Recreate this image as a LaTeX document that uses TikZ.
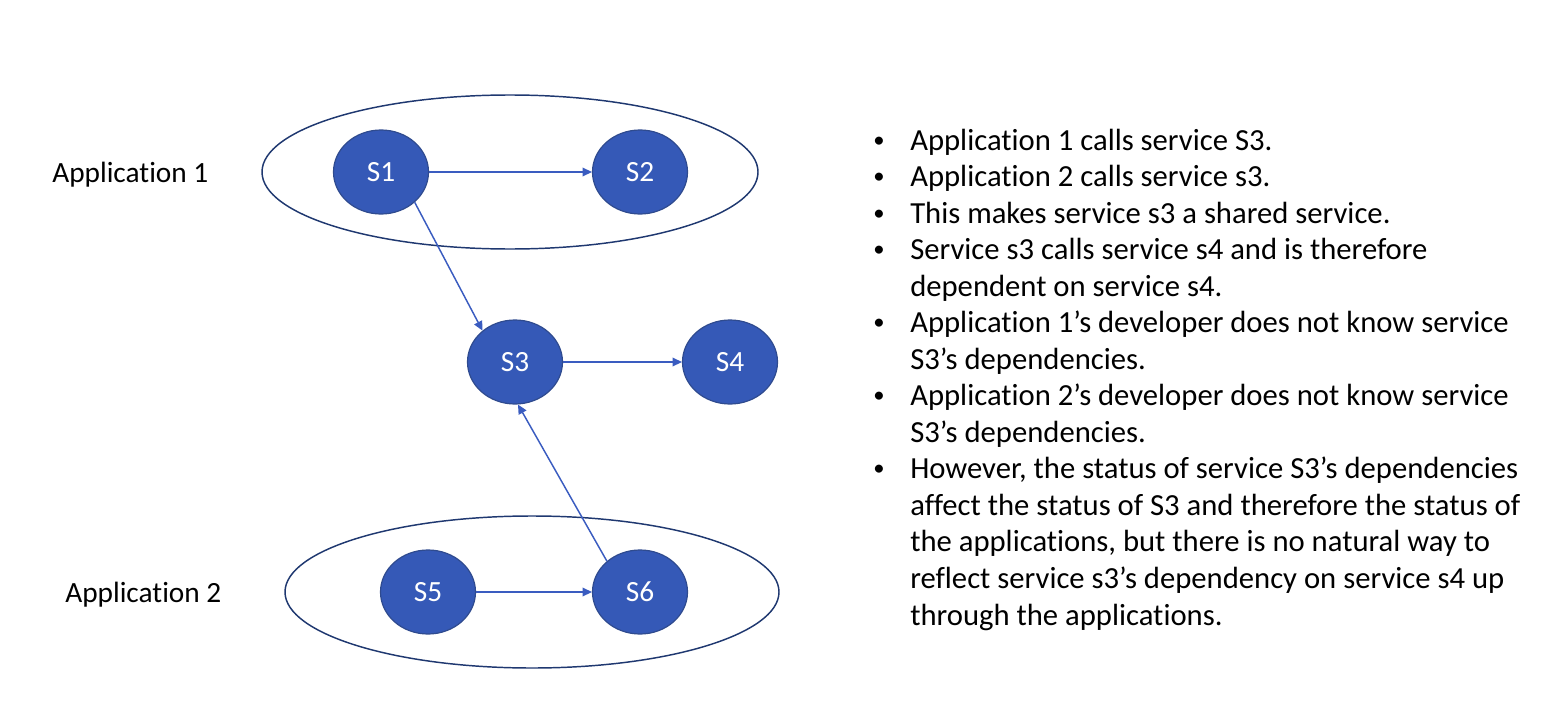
\documentclass[tikz,border=0pt]{standalone}
\usepackage{fontspec}
\setmainfont[RawFeature={-liga;-clig;-calt;-dlig;-rlig;-ccmp}]{Carlito}
\usetikzlibrary{shapes.geometric,arrows.meta}
\definecolor{svcfill}{HTML}{3559B7}
\definecolor{svcline}{HTML}{2F4B8F}
\definecolor{grpline}{HTML}{1F3870}
\definecolor{callline}{HTML}{3A5CC0}

\begin{document}
\begin{tikzpicture}[x=0.75pt,y=0.75pt,yscale=-1,xscale=1,
    svc/.style={ellipse,draw=svcline,line width=0.9pt,fill=svcfill,text=white,minimum width=71.25pt,minimum height=63pt,inner sep=0pt,font=\fontsize{22}{26}\selectfont},
    grp/.style={ellipse,draw=grpline,line width=1.1pt,inner sep=0pt},
    call/.style={draw=callline,line width=1.1pt,-{Triangle[length=7pt,width=6.5pt]}},
    lbl/.style={anchor=base west,inner sep=0pt,font=\fontsize{22}{26}\selectfont},
    txt/.style={anchor=base west,inner sep=0pt,font=\fontsize{23}{27}\selectfont},
    dot/.style={anchor=base west,inner sep=0pt,font=\fontsize{17}{20}\selectfont}]
\useasboundingbox (0,0) rectangle (1560,710);

%Shape: Ellipse [application 1]
\node [grp,minimum width=372pt,minimum height=115.5pt] (app1box) at (510,172) {};
%Shape: Ellipse [application 2]
\node [grp,minimum width=370.5pt,minimum height=114pt] (app2box) at (532,592) {};

%Services
\node [svc] (s1) at (381,172) {S1};
\node [svc] (s2) at (640,172) {S2};
\node [svc] (s3) at (515,362) {S3};
\node [svc] (s4) at (730,362) {S4};
\node [svc] (s5) at (428,592) {S5};
\node [svc] (s6) at (640,592) {S6};

%Calls
\draw [call] (s1) -- (s2);
\draw [call] (s1.-42) -- (s3.136);
\draw [call] (s3) -- (s4);
\draw [call] (s5) -- (s6);
\draw [call] (s6.137) -- (s3.-86);

% Text Node
\node [lbl] (app1) at (52,182) {Application 1};
% Text Node
\node [lbl] (app2) at (65,602) {Application 2};

% Bullets
\node [dot] (b1) at (873,147) {•};
\node [dot] (b2) at (873,183.5) {•};
\node [dot] (b3) at (873,220.1) {•};
\node [dot] (b4) at (873,256.6) {•};
\node [dot] (b5) at (873,329.7) {•};
\node [dot] (b6) at (873,402.8) {•};
\node [dot] (b7) at (873,475.9) {•};

% Text lines
\node [txt] (t1) at (910,150) {Application 1 calls service S3.};
\node [txt] (t2) at (910,186.5) {Application 2 calls service s3.};
\node [txt] (t3) at (910,223.1) {This makes service s3 a shared service.};
\node [txt] (t4) at (910,259.6) {Service s3 calls service s4 and is therefore};
\node [txt] (t4b) at (910,296.2) {dependent on service s4.};
\node [txt] (t5) at (910,332.7) {Application 1’s developer does not know service};
\node [txt] (t5b) at (910,369.2) {S3’s dependencies.};
\node [txt] (t6) at (910,405.8) {Application 2’s developer does not know service};
\node [txt] (t6b) at (910,442.3) {S3’s dependencies.};
\node [txt] (t7) at (910,478.9) {However, the status of service S3’s dependencies};
\node [txt] (t7b) at (910,515.4) {affect the status of S3 and therefore the status of};
\node [txt] (t7c) at (910,551.9) {the applications, but there is no natural way to};
\node [txt] (t7d) at (910,588.5) {reflect service s3’s dependency on service s4 up};
\node [txt] (t7e) at (910,625.0) {through the applications.};
\end{tikzpicture}
\end{document}
